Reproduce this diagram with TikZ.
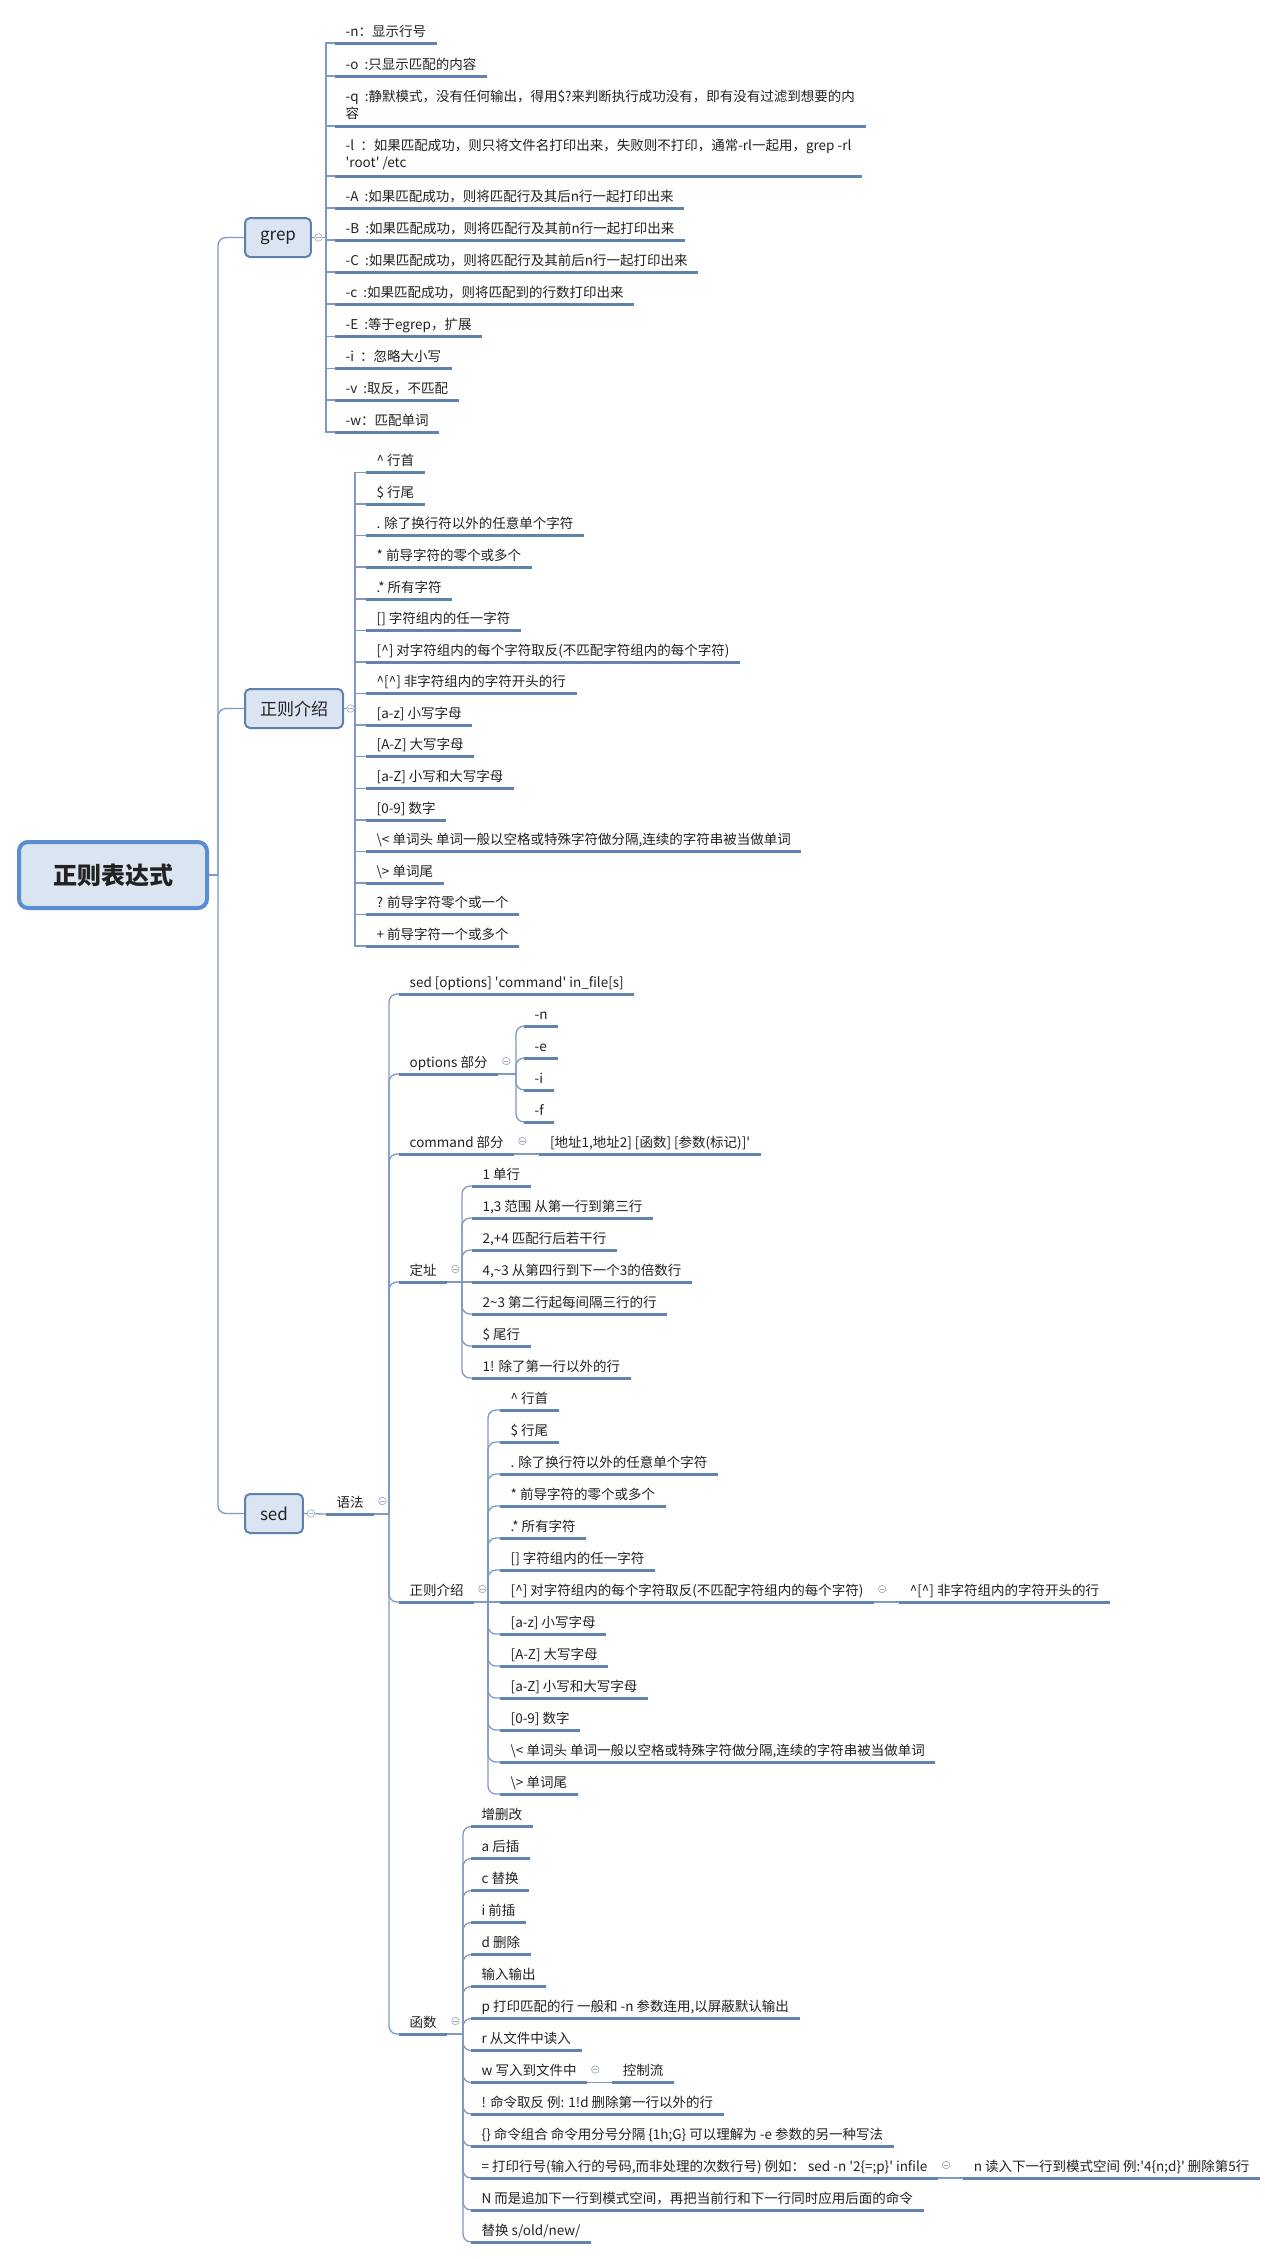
\documentclass[tikz,border=0pt]{standalone}
\usepackage{fontspec}
\setmainfont{Noto Sans CJK SC}
\usetikzlibrary{positioning}
\definecolor{boxfill}{HTML}{DBE5F1}
\definecolor{boxline}{HTML}{5F81AE}
\definecolor{rootline}{HTML}{5B8DD3}
\definecolor{ulc}{HTML}{6183B0}
\definecolor{connc}{HTML}{7E9AC2}
\definecolor{foldc}{HTML}{A3AFC2}
\definecolor{txt}{HTML}{222222}
\newcommand{\sq}{\textquotesingle}

\begin{document}
\begin{tikzpicture}[x=1pt,y=-1pt,font=\fontsize{13.5}{17}\selectfont,text=txt,
    uline/.style={draw=ulc,line width=3pt},
    leafbase/.style={anchor=south west,inner xsep=10.5pt,
        append after command={(\tikzlastnode.south west) edge[uline] (\tikzlastnode.south east)}},
    leaf/.style={leafbase,inner ysep=3.5pt,text height=10pt,text depth=3pt},
    leaftwo/.style={leafbase,inner ysep=6pt,align=left},
    topic/.style={draw=boxline,line width=2pt,fill=boxfill,rounded corners=5pt,anchor=west,
        minimum height=39pt,inner xsep=15pt,font=\fontsize{17}{20}\selectfont},
    rootbox/.style={draw=rootline,line width=4pt,fill=boxfill,rounded corners=9pt,
        minimum width=188pt,minimum height=66pt,font=\fontsize{24}{28}\selectfont\bfseries},
    conn/.style={draw=connc,line width=1.3pt},
    fold/.style={circle,draw=foldc,line width=0.7pt,fill=white,minimum size=7.5pt,inner sep=0pt,
        path picture={\draw[foldc,line width=0.7pt] ([xshift=-2.2pt]path picture bounding box.center) -- ([xshift=2.2pt]path picture bounding box.center);}}]
    \fill[white] (0,0) rectangle (1264,2259);
    \useasboundingbox (0,0) rectangle (1264,2259);

    \node[rootbox] (root) at (113,875) {正则表达式};
    \node[topic] (grep) at (244,237.5) {grep};
    \node[topic] (regex) at (244,708.5) {正则介绍};
    \node[topic] (sed) at (244,1513.5) {sed};

    \node[leaf] (g1) at (335,43) {-n：显示行号};
    \node[leaf] (g2) at (335,76) {-o\ \ :只显示匹配的内容};
    \node[leaftwo] (g3) at (335,126) {-q\ \ :静默模式，没有任何输出，得用\$?来判断执行成功没有，即有没有过滤到想要的内\\容};
    \node[leaftwo] (g4) at (335,176) {-l\ \ ：如果匹配成功，则只将文件名打印出来，失败则不打印，通常-rl一起用，grep -rl\\\sq root\sq\ /etc};
    \node[leaf] (g5) at (335,208) {-A\ \ :如果匹配成功，则将匹配行及其后n行一起打印出来};
    \node[leaf] (g6) at (335,240) {-B\ \ :如果匹配成功，则将匹配行及其前n行一起打印出来};
    \node[leaf] (g7) at (335,272) {-C\ \ :如果匹配成功，则将匹配行及其前后n行一起打印出来};
    \node[leaf] (g8) at (335,304) {-c\ \ :如果匹配成功，则将匹配到的行数打印出来};
    \node[leaf] (g9) at (335,336.5) {-E\ \ :等于egrep，扩展};
    \node[leaf] (g10) at (335,368.5) {-i\ \ ：忽略大小写};
    \node[leaf] (g11) at (335,400) {-v\ \ :取反，不匹配};
    \node[leaf] (g12) at (335,432) {-w：匹配单词};

    \node[leaf] (t1) at (366,472.5) {\textasciicircum\ 行首};
    \node[leaf] (t2) at (366,504) {\$ 行尾};
    \node[leaf] (t3) at (366,535.5) {. 除了换行符以外的任意单个字符};
    \node[leaf] (t4) at (366,567) {* 前导字符的零个或多个};
    \node[leaf] (t5) at (366,599) {.* 所有字符};
    \node[leaf] (t6) at (366,630.5) {[] 字符组内的任一字符};
    \node[leaf] (t7) at (366,662) {[\textasciicircum] 对字符组内的每个字符取反(不匹配字符组内的每个字符)};
    \node[leaf] (t8) at (366,693.5) {\textasciicircum[\textasciicircum] 非字符组内的字符开头的行};
    \node[leaf] (t9) at (366,725) {[a-z] 小写字母};
    \node[leaf] (t10) at (366,756.5) {[A-Z] 大写字母};
    \node[leaf] (t11) at (366,788.5) {[a-Z] 小写和大写字母};
    \node[leaf] (t12) at (366,820) {[0-9] 数字};
    \node[leaf] (t13) at (366,851.5) {\textbackslash< 单词头 单词一般以空格或特殊字符做分隔,连续的字符串被当做单词};
    \node[leaf] (t14) at (366,883) {\textbackslash> 单词尾};
    \node[leaf] (t15) at (366,914.5) {? 前导字符零个或一个};
    \node[leaf] (t16) at (366,946) {+ 前导字符一个或多个};

    \node[leaf] (syntax) at (326,1514) {语法};
    \node[leaf] (s1) at (399,994) {sed [options] \sq command\sq\ in\_file[s]};
    \node[leaf] (s2) at (399,1074) {options 部分};
    \node[leaf] (s3) at (399,1154) {command 部分};
    \node[leaf] (s4) at (399,1282) {定址};
    \node[leaf] (s5) at (399,1602) {正则介绍};
    \node[leaf] (s6) at (399,2034) {函数};

    \node[leaf] (o1) at (524,1026) {-n};
    \node[leaf] (o2) at (524,1058) {-e};
    \node[leaf] (o3) at (524,1090) {-i};
    \node[leaf] (o4) at (524,1122) {-f};
    \node[leaf,right=25pt of s3.south east,anchor=south west] (c1) {[地址1,地址2] [函数] [参数(标记)]\sq};

    \node[leaf] (d1) at (472,1186) {1 单行};
    \node[leaf] (d2) at (472,1218) {1,3 范围 从第一行到第三行};
    \node[leaf] (d3) at (472,1250) {2,+4 匹配行后若干行};
    \node[leaf] (d4) at (472,1282) {4,\textasciitilde3 从第四行到下一个3的倍数行};
    \node[leaf] (d5) at (472,1314) {2\textasciitilde3 第二行起每间隔三行的行};
    \node[leaf] (d6) at (472,1346) {\$ 尾行};
    \node[leaf] (d7) at (472,1378) {1! 除了第一行以外的行};

    \node[leaf] (r1) at (500,1410) {\textasciicircum\ 行首};
    \node[leaf] (r2) at (500,1442) {\$ 行尾};
    \node[leaf] (r3) at (500,1474) {. 除了换行符以外的任意单个字符};
    \node[leaf] (r4) at (500,1506) {* 前导字符的零个或多个};
    \node[leaf] (r5) at (500,1538) {.* 所有字符};
    \node[leaf] (r6) at (500,1570) {[] 字符组内的任一字符};
    \node[leaf] (r7) at (500,1602) {[\textasciicircum] 对字符组内的每个字符取反(不匹配字符组内的每个字符)};
    \node[leaf] (r8) at (500,1634) {[a-z] 小写字母};
    \node[leaf] (r9) at (500,1666) {[A-Z] 大写字母};
    \node[leaf] (r10) at (500,1698) {[a-Z] 小写和大写字母};
    \node[leaf] (r11) at (500,1730) {[0-9] 数字};
    \node[leaf] (r12) at (500,1762) {\textbackslash< 单词头 单词一般以空格或特殊字符做分隔,连续的字符串被当做单词};
    \node[leaf] (r13) at (500,1794) {\textbackslash> 单词尾};
    \node[leaf,right=25pt of r7.south east,anchor=south west] (rx) {\textasciicircum[\textasciicircum] 非字符组内的字符开头的行};

    \node[leaf] (f1) at (471,1826.5) {增删改};
    \node[leaf] (f2) at (471,1858.5) {a 后插};
    \node[leaf] (f3) at (471,1890.5) {c 替换};
    \node[leaf] (f4) at (471,1922.5) {i 前插};
    \node[leaf] (f5) at (471,1954.5) {d 删除};
    \node[leaf] (f6) at (471,1986.5) {输入输出};
    \node[leaf] (f7) at (471,2018.5) {p 打印匹配的行 一般和 -n 参数连用,以屏蔽默认输出};
    \node[leaf] (f8) at (471,2050.5) {r 从文件中读入};
    \node[leaf] (f9) at (471,2082.5) {w 写入到文件中};
    \node[leaf] (f10) at (471,2114) {! 命令取反 例: 1!d 删除第一行以外的行};
    \node[leaf] (f11) at (471,2146) {\{\} 命令组合 命令用分号分隔 \{1h;G\} 可以理解为 -e 参数的另一种写法};
    \node[leaf] (f12) at (471,2178) {= 打印行号(输入行的号码,而非处理的次数行号) 例如： sed -n \sq 2\{=;p\}\sq\ infile};
    \node[leaf] (f13) at (471,2210) {N 而是追加下一行到模式空间，再把当前行和下一行同时应用后面的命令};
    \node[leaf] (f14) at (471,2242) {替换 s/old/new/};
    \node[leaf,right=25pt of f9.south east,anchor=south west] (flow) {控制流};
    \node[leaf,right=25pt of f12.south east,anchor=south west] (nread) {n 读入下一行到模式空间 例:\sq 4\{n;d\}\sq\ 删除第5行};

    \coordinate (trunk) at (218,875);
    \draw[conn] (root.east) -- (trunk);
    \foreach \n in {grep,regex,sed} \draw[conn,rounded corners=8pt] (trunk) |- (\n.west);

    \coordinate (gbus) at (326,237.5);
    \draw[conn] (grep.east) -- (gbus);
    \foreach \i in {1,...,12} \draw[conn] (gbus) |- (g\i.south west);

    \coordinate (tbus) at (355,708.5);
    \draw[conn] (regex.east) -- (tbus);
    \foreach \i in {1,...,16} \draw[conn] (tbus) |- (t\i.south west);

    \draw[conn] (sed.east) -- (syntax.south west);
    \coordinate (sbus) at (389,1514);
    \draw[conn] (syntax.south east) -- (sbus);
    \foreach \i in {1,...,6} \draw[conn,rounded corners=8pt] (sbus) |- (s\i.south west);

    \coordinate (obus) at (516,1074);
    \draw[conn] (s2.south east) -- (obus);
    \foreach \i in {1,...,4} \draw[conn,rounded corners=8pt] (obus) |- (o\i.south west);
    \draw[conn] (s3.south east) -- (c1.south west);

    \coordinate (dbus) at (462,1282);
    \draw[conn] (s4.south east) -- (dbus) -- (d4.south west);
    \foreach \i in {1,2,3,5,6,7} \draw[conn,rounded corners=8pt] (dbus) |- (d\i.south west);

    \coordinate (rbus) at (488,1602);
    \draw[conn] (s5.south east) -- (rbus) -- (r7.south west);
    \foreach \i in {1,2,3,4,5,6,8,9,10,11,12,13} \draw[conn,rounded corners=8pt] (rbus) |- (r\i.south west);
    \draw[conn] (r7.south east) -- (rx.south west);

    \coordinate (fbus) at (463,2034);
    \draw[conn] (s6.south east) -- (fbus);
    \foreach \i in {1,...,14} \draw[conn,rounded corners=8pt] (fbus) |- (f\i.south west);
    \draw[conn] (f9.south east) -- (flow.south west);
    \draw[conn] (f12.south east) -- (nread.south west);

    \node[fold] (fgrep) at ([xshift=6.5pt]grep.east) {};
    \node[fold] (fregex) at ([xshift=6.5pt]regex.east) {};
    \node[fold] (fsed) at ([xshift=7pt]sed.east) {};
    \node[fold] (fsyntax) at ([shift={(8,-13)}]syntax.south east) {};
    \node[fold] (fopt) at ([shift={(8,-13)}]s2.south east) {};
    \node[fold] (fcmd) at ([shift={(8,-13)}]s3.south east) {};
    \node[fold] (faddr) at ([shift={(8,-13)}]s4.south east) {};
    \node[fold] (fre) at ([shift={(8,-13)}]s5.south east) {};
    \node[fold] (fr7) at ([shift={(8,-13)}]r7.south east) {};
    \node[fold] (ffunc) at ([shift={(8,-13)}]s6.south east) {};
    \node[fold] (fw) at ([shift={(8,-13)}]f9.south east) {};
    \node[fold] (feq) at ([shift={(8,-13)}]f12.south east) {};
\end{tikzpicture}
\end{document}
